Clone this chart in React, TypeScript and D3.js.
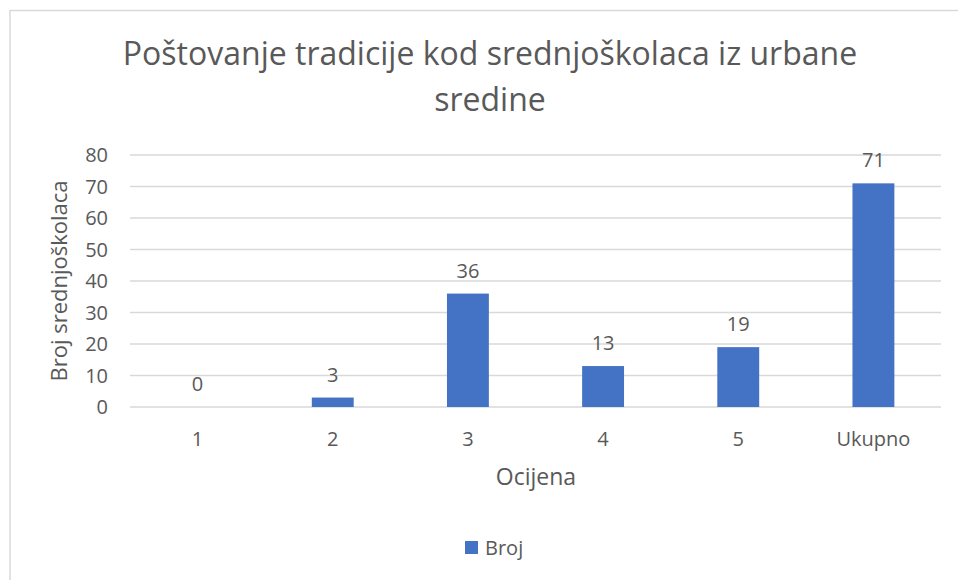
import React from "react";
import * as d3 from "d3";

const categories = ["1", "2", "3", "4", "5", "Ukupno"];
const values = [0, 3, 36, 13, 19, 71];
const yTicks = [0, 10, 20, 30, 40, 50, 60, 70, 80];
const titleLines = ["Poštovanje tradicije kod srednjoškolaca iz urbane", "sredine"];
const yAxisTitle = "Broj srednjoškolaca";
const xAxisTitle = "Ocijena";
const seriesName = "Broj";

const W = 958;
const H = 580;
const FONT = "'Open Sans', 'Liberation Sans', sans-serif";
const TEXT = "#595959";
const BAR = "#4472C4";
const GRID = "#d9d9d9";

export default function App() {
  const x = d3.scaleBand<string>().domain(categories).range([130, 941]).paddingInner(0.69).paddingOuter(0.345);
  const y = d3.scaleLinear().domain([0, 80]).range([407, 155]);
  const bw = x.bandwidth();

  return (
    <svg width={W} height={H} style={{ position: "absolute", left: 0, top: 0, fontFamily: FONT }}>
      <rect x={0} y={0} width={W} height={H} fill="#fff" />
      <rect x={10} y={10.5} width={W + 10} height={H + 10} fill="none" stroke="#d9d9d9" strokeWidth={1.5} />
      {titleLines.map((t, i) => (
        <text key={i} x={490} y={65 + i * 46} textAnchor="middle" fontSize={32} fill={TEXT}>
          {t}
        </text>
      ))}
      {yTicks.map((t) => (
        <g key={t}>
          <line x1={130} x2={941} y1={y(t)} y2={y(t)} stroke={GRID} strokeWidth={1.3} />
          <text x={108} y={y(t)} dy="0.35em" textAnchor="end" fontSize={20} fill={TEXT}>
            {t}
          </text>
        </g>
      ))}
      {categories.map((c, i) => (
        <g key={c}>
          <rect x={x(c)} y={y(values[i])} width={bw} height={y(0) - y(values[i])} fill={BAR} />
          <text x={(x(c) as number) + bw / 2} y={y(values[i]) - 16} textAnchor="middle" fontSize={20} fill={TEXT}>
            {values[i]}
          </text>
          <text x={(x(c) as number) + bw / 2} y={446} textAnchor="middle" fontSize={20} fill={TEXT}>
            {c}
          </text>
        </g>
      ))}
      <text x={536} y={485} textAnchor="middle" fontSize={23} fill={TEXT}>
        {xAxisTitle}
      </text>
      <text transform={`translate(67,281) rotate(-90)`} textAnchor="middle" fontSize={22} fill={TEXT}>
        {yAxisTitle}
      </text>
      <rect x={465} y={541} width={13} height={13} fill={BAR} />
      <text x={485} y={555} fontSize={20} fill={TEXT}>
        {seriesName}
      </text>
    </svg>
  );
}
